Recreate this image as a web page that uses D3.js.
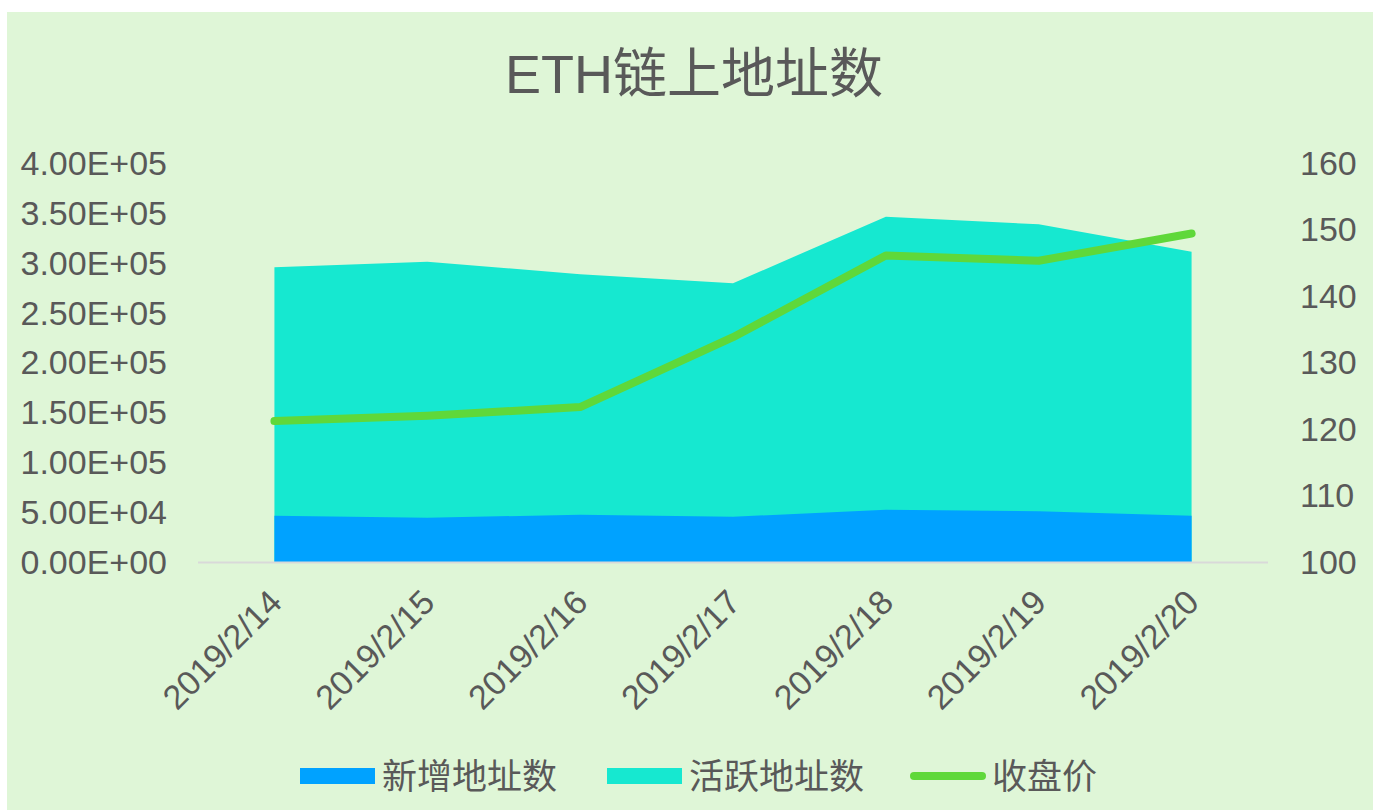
<!DOCTYPE html>
<html>
<head>
<meta charset="utf-8">
<script src="https://cdn.jsdelivr.net/npm/d3@7"></script>
<style>
  html, body { margin: 0; padding: 0; background: #fff; }
  svg { display: block; }
  text { font-family: "Liberation Sans", Arial, "Noto Sans CJK SC", sans-serif; fill: #595959; }
</style>
</head>
<body>
<svg width="1373" height="810"></svg>
<script>
// data
var dates = ['2019/2/14', '2019/2/15', '2019/2/16', '2019/2/17', '2019/2/18', '2019/2/19', '2019/2/20'];
var newAddr = [46400, 44400, 47400, 45400, 52400, 50800, 46400];
var activeAddr = [295400, 301100, 288400, 279400, 346200, 338500, 311000];
var closePrice = [121.2, 122.0, 123.3, 133.8, 146.1, 145.3, 149.4];
var leftTicks = [0, 50000, 100000, 150000, 200000, 250000, 300000, 350000, 400000];
var rightTicks = [100, 110, 120, 130, 140, 150, 160];
var seriesNames = ['新增地址数', '活跃地址数', '收盘价'];

var colBlue = '#00a2ff', colCyan = '#16e8d0', colGreen = '#5fd83a';

var svg = d3.select('svg');

// background panel (white strip at top / left like the screenshot)
svg.append('rect')
  .attr('x', 7).attr('y', 12)
  .attr('width', 1366).attr('height', 798)
  .style('fill', '#dff6d7');

var x0 = 198, x1 = 1268, yTop = 163, yBot = 562;

var x = d3.scaleBand().domain(dates).range([x0, x1]).padding(0);
function cx(d) { return x(d) + x.bandwidth() / 2; }
var yL = d3.scaleLinear().domain([0, 400000]).range([yBot, yTop]);
var yR = d3.scaleLinear().domain([100, 160]).range([yBot, yTop]);

function sci(v) {
  var p = v.toExponential(2).split('e');
  var e = parseInt(p[1], 10);
  var s = e < 0 ? '-' : '+';
  e = Math.abs(e);
  return p[0] + 'E' + s + (e < 10 ? '0' + e : e);
}

// title
svg.append('text')
  .attr('x', 694).attr('y', 93)
  .attr('text-anchor', 'middle')
  .style('font-size', '54px')
  .text('ETH链上地址数');

// areas
var areaActive = d3.area()
  .x(function(d, i) { return cx(dates[i]); })
  .y0(yL(0))
  .y1(function(d) { return yL(d); });

svg.append('path')
  .datum(activeAddr)
  .attr('d', areaActive)
  .style('fill', colCyan);

svg.append('path')
  .datum(newAddr)
  .attr('d', areaActive)
  .style('fill', colBlue);

// x axis line
svg.append('line')
  .attr('x1', x0).attr('x2', x1)
  .attr('y1', yBot + 0.5).attr('y2', yBot + 0.5)
  .attr('stroke', '#d9d9d9')
  .attr('stroke-width', 2);

// price line
var line = d3.line()
  .x(function(d, i) { return cx(dates[i]); })
  .y(function(d) { return yR(d); });

svg.append('path')
  .datum(closePrice)
  .attr('d', line)
  .style('fill', 'none')
  .style('stroke', colGreen)
  .attr('stroke-width', 8)
  .attr('stroke-linecap', 'round')
  .attr('stroke-linejoin', 'round');

// left axis labels
var gl = svg.append('g').attr('transform', 'translate(167,0)');
gl.selectAll('text').data(leftTicks).enter().append('text')
  .attr('x', 0)
  .attr('y', function(d) { return yL(d); })
  .attr('dy', '0.35em')
  .attr('text-anchor', 'end')
  .style('font-size', '34px')
  .text(sci);

// right axis labels
var gr = svg.append('g').attr('transform', 'translate(1300,0)');
gr.selectAll('text').data(rightTicks).enter().append('text')
  .attr('x', 0)
  .attr('y', function(d) { return yR(d); })
  .attr('dy', '0.35em')
  .attr('text-anchor', 'start')
  .style('font-size', '34px')
  .text(function(d) { return d; });

// x labels rotated
svg.selectAll('.xl').data(dates).enter().append('text')
  .attr('class', 'xl')
  .attr('transform', function(d) { return 'translate(' + (cx(d) + 1) + ',596) rotate(-45)'; })
  .attr('dy', '0.35em')
  .attr('text-anchor', 'end')
  .style('font-size', '34px')
  .text(function(d) { return d; });

// legend
var legend = [
  { name: seriesNames[0], color: colBlue, type: 'rect', x: 300 },
  { name: seriesNames[1], color: colCyan, type: 'rect', x: 607 },
  { name: seriesNames[2], color: colGreen, type: 'line', x: 910 }
];
var ly = 776;
legend.forEach(function(l) {
  if (l.type == 'rect') {
    svg.append('rect')
      .attr('x', l.x).attr('y', ly - 8)
      .attr('width', 75).attr('height', 16)
      .style('fill', l.color);
  } else {
    svg.append('line')
      .attr('x1', l.x + 4).attr('x2', l.x + 72)
      .attr('y1', ly).attr('y2', ly)
      .style('stroke', l.color)
      .attr('stroke-width', 8)
      .attr('stroke-linecap', 'round');
  }
  svg.append('text')
    .attr('x', l.x + 82).attr('y', ly)
    .attr('dy', '0.36em')
    .style('font-size', '35px')
    .text(l.name);
});
</script>
</body>
</html>
